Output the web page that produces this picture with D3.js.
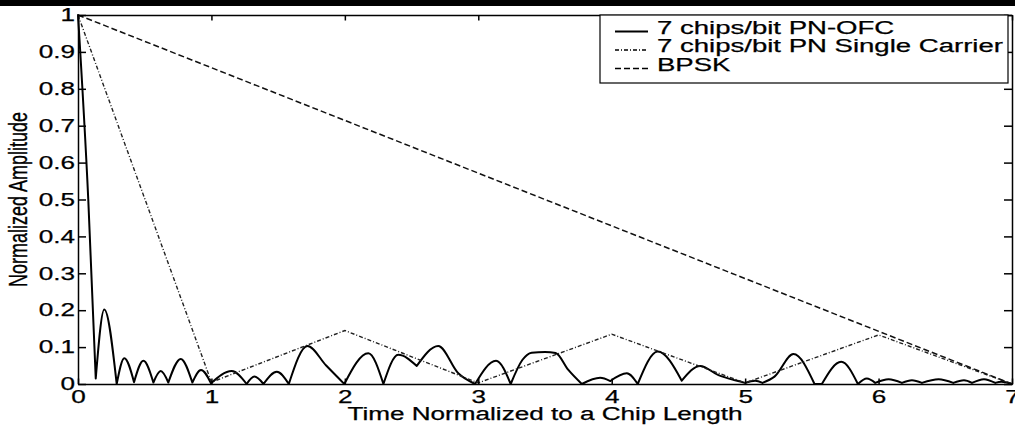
<!DOCTYPE html>
<meta charset="utf-8">
<head>
    <title>PN-OFC autocorrelation</title>
    <script src="https://cdn.jsdelivr.net/npm/d3@7"></script>
</head>

<style>
body { margin: 0; background: #fff; }
text { font-family: "Liberation Sans", Arial, sans-serif; font-size: 18px; fill: #000; stroke: #000; stroke-width: 0.25; }
.axis path, .axis line { stroke: #000; stroke-width: 1.5; }
</style>

<body>
<svg></svg>

<script>

// PN-OFC (solid)
let ofcT = [0, 0.077, 0.133, 0.197, 0.29, 0.347, 0.42, 0.49, 0.565, 0.62, 0.677, 0.77, 0.857, 0.922, 0.997,
            1.152, 1.264, 1.322, 1.39, 1.49, 1.58, 1.72, 1.86, 1.996, 2.176, 2.289, 2.40, 2.539, 2.70, 2.85, 2.976,
            3.133, 3.243, 3.33, 3.40, 3.50, 3.58, 3.675, 3.776, 3.913, 3.99, 4.113, 4.195, 4.345, 4.525,
            4.663, 4.80, 4.925, 5.0, 5.075, 5.13, 5.22, 5.362, 5.52, 5.575, 5.72, 5.845,
            5.912, 5.975, 6.075, 6.175, 6.25, 6.325, 6.45, 6.56, 6.64, 6.70, 6.79, 6.875, 6.92, 7.0];
let ofcY = [1, 0.5, 0.015, 0.202, 0, 0.070, 0.005, 0.063, 0.004, 0.035, 0.004, 0.068, 0.004, 0.038, 0.002,
            0.035, 0, 0.02, 0, 0.033, 0, 0.103, 0.05, 0, 0.083, 0, 0.079, 0.049, 0.103, 0.029, 0,
            0.063, 0, 0.065, 0.085, 0.087, 0.084, 0.038, 0, 0.017, 0.008, 0.029, 0, 0.088, 0.009,
            0.049, 0.024, 0.01, 0.003, 0.009, 0.003, 0.02, 0.081, 0, 0, 0.06, 0,
            0.015, 0.003, 0.013, 0.003, 0.01, 0.003, 0.013, 0.003, 0.01, 0.003, 0.013, 0.003, 0.006, 0];

// 7 chips/bit PN single carrier (dash-dot)
let scT = [0, 1, 2, 3, 4, 5, 6, 7];
let scY = [1, 0.005, 0.145, 0.003, 0.135, 0.003, 0.133, 0];

// BPSK (dashed)
let bpskT = [0, 7];
let bpskY = [1, 0];

let xTicks = [0, 1, 2, 3, 4, 5, 6, 7];
let yTicks = [0, 0.1, 0.2, 0.3, 0.4, 0.5, 0.6, 0.7, 0.8, 0.9, 1];

let legendLabels = ["7 chips/bit PN-OFC", "7 chips/bit PN Single Carrier", "BPSK"];
let dashes = [null, "4,2,1,2", "6,3"];

let W = 1015, H = 428;
let margin = {top: 15, right: 3, bottom: 44, left: 78};
let width = W - margin.left - margin.right;
let height = H - margin.top - margin.bottom;
let sx = 1.45; // picture is stretched sideways

let svg = d3.select("svg").attr("width", W).attr("height", H);

// black band at the very top of the scan
svg.append("rect").attr("x", 0).attr("y", 0).attr("width", W).attr("height", 6).attr("fill", "#000");

let g = svg.append("g").attr("transform", "translate(" + margin.left + "," + margin.top + ")");

let x = d3.scaleLinear().domain([0, 7]).range([0, width]);
let y = d3.scaleLinear().domain([0, 1]).range([height, 0]);

function stretch(sel, k) {
  sel.each(function() {
    let len = this.getComputedTextLength();
    d3.select(this).attr("textLength", len * k).attr("lengthAdjust", "spacingAndGlyphs");
  });
}

// curves
let line = d3.line().x(d => x(d[0])).y(d => y(d[1]));

// split solid curve at its minima so the nulls stay sharp
let pts = ofcT.map((t, i) => [t, ofcY[i]]);
let lobes = [], cur = [pts[0]];
for (let i = 1; i < pts.length; i++) {
  cur.push(pts[i]);
  let isMin = i < pts.length - 1 && pts[i][1] <= pts[i - 1][1] && pts[i][1] <= pts[i + 1][1];
  if (isMin) { lobes.push(cur); cur = [pts[i]]; }
}
lobes.push(cur);
let smooth = d3.line().x(d => x(d[0])).y(d => y(d[1])).curve(d3.curveMonotoneX);

g.append("path")
  .attr("d", lobes.map(l => smooth(l)).join(""))
  .attr("fill", "none").attr("stroke", "#000").attr("stroke-width", 2)
  .attr("stroke-linecap", "round").attr("stroke-linejoin", "round");

g.append("path")
  .attr("d", line(scT.map((t, i) => [t, scY[i]])))
  .attr("fill", "none").attr("stroke", "#222").attr("stroke-width", 1.4)
  .attr("stroke-dasharray", dashes[1]);

g.append("path")
  .attr("d", line(bpskT.map((t, i) => [t, bpskY[i]])))
  .attr("fill", "none").attr("stroke", "#111").attr("stroke-width", 1.5)
  .attr("stroke-dasharray", dashes[2]);

// axes, ticks inward on all four sides
let ax = g.append("g").attr("class", "axis").attr("transform", "translate(0," + height + ")")
  .call(d3.axisBottom(x).tickValues(xTicks).tickSize(-5.5).tickSizeOuter(0).tickPadding(6)
    .tickFormat(d3.format("d")));
g.append("g").attr("class", "axis")
  .call(d3.axisTop(x).tickValues(xTicks).tickSize(-5.5).tickSizeOuter(0).tickFormat(""));
let ay = g.append("g").attr("class", "axis")
  .call(d3.axisLeft(y).tickValues(yTicks).tickSize(-8).tickSizeOuter(0).tickPadding(3)
    .tickFormat(d3.format("")));
g.append("g").attr("class", "axis").attr("transform", "translate(" + width + ",0)")
  .call(d3.axisRight(y).tickValues(yTicks).tickSize(-8).tickSizeOuter(0).tickFormat(""));

g.selectAll(".axis text").attr("fill", "#000").attr("stroke", "#000").attr("stroke-width", 0.25)
  .style("font-size", "18px").style("font-family", "'Liberation Sans', Arial, sans-serif");
stretch(ax.selectAll("text"), sx);
stretch(ay.selectAll("text"), sx);

// legend
let lg = g.append("g").attr("transform", "translate(" + (600 - margin.left) + ",0)");
lg.append("rect").attr("width", 408).attr("height", 68)
  .attr("fill", "#fff").attr("stroke", "#000").attr("stroke-width", 1.2);
legendLabels.forEach((lab, i) => {
  let yy = 18.5 + i * 18.5;
  lg.append("line").attr("x1", 15).attr("x2", 48).attr("y1", yy - 2).attr("y2", yy - 2)
    .attr("stroke", "#000").attr("stroke-width", i == 0 ? 1.8 : 1.3)
    .attr("stroke-dasharray", dashes[i]);
  let t = lg.append("text").attr("x", 57).attr("y", yy).style("font-size", "18px").text(lab);
  stretch(t, 1.53);
});

// axis titles
let xl = svg.append("text").attr("x", margin.left + width / 2).attr("y", 420)
  .attr("text-anchor", "middle").text("Time Normalized to a Chip Length");
stretch(xl, sx);

svg.append("text")
  .attr("transform", "translate(27," + (margin.top + height / 2) + ") scale(" + sx + ",1) rotate(-90)")
  .attr("text-anchor", "middle").text("Normalized Amplitude");

</script>
</body>
